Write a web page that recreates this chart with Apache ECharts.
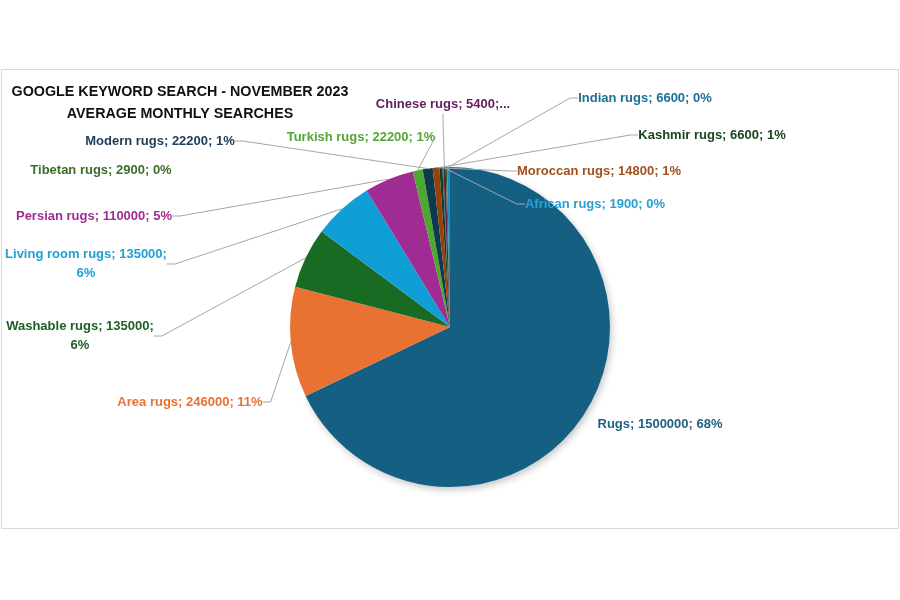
<!DOCTYPE html>
<html>
<head>
<meta charset="utf-8">
<script src="https://cdn.jsdelivr.net/npm/echarts@6/dist/echarts.min.js"></script>
<style>
html,body{margin:0;padding:0;background:#fff;}
#chart{width:900px;height:600px;}
</style>
</head>
<body>
<div id="chart"></div>
<script>
// ---- data ----
const titleLines = ['GOOGLE KEYWORD SEARCH - NOVEMBER 2023', 'AVERAGE MONTHLY SEARCHES'];
const categories = ['Rugs', 'Area rugs', 'Washable rugs', 'Living room rugs', 'Persian rugs',
  'Turkish rugs', 'Modern rugs', 'Moroccan rugs', 'Kashmir rugs', 'African rugs',
  'Chinese rugs', 'Tibetan rugs', 'Indian rugs'];
const searches = [1500000, 246000, 135000, 135000, 110000, 22200, 22200, 14800, 6600, 1900, 5400, 2900, 6600];

// ---- styles ----
const sliceColors = ['#156082', '#E97132', '#196B24', '#0F9ED5', '#A02B93', '#4EA72E',
  '#0D3A4E', '#994011', '#0F4016', '#095F80', '#601A58', '#2F641C', '#1F8EC0'];
const labelColors = ['#1F5F80', '#E97132', '#1E5E26', '#1FA0D6', '#A02B93', '#55A636',
  '#1C3C58', '#A0501E', '#17451C', '#2AA0D6', '#64205C', '#3C6E2A', '#1E6E96'];
// label centre positions (manually placed labels, as in the original)
const labelPlace = {
  'Rugs': [660, 424], 'Area rugs': [190, 402], 'Washable rugs': [80, 336],
  'Living room rugs': [86, 264], 'Persian rugs': [94, 216], 'Turkish rugs': [361, 137],
  'Modern rugs': [160, 141], 'Moroccan rugs': [599, 171], 'Kashmir rugs': [712, 135],
  'African rugs': [595, 204], 'Chinese rugs': [443, 104], 'Tibetan rugs': [101, 170],
  'Indian rugs': [645, 98]
};
const wrapped = ['Living room rugs', 'Washable rugs'];
const truncated = ['Chinese rugs'];
const noLine = ['Rugs', 'Tibetan rugs'];

const FONT = 'Liberation Sans';

const pieData = categories.map((name, i) => {
  let fmt = '{b}; {c}; {d}%';
  if (wrapped.includes(name)) fmt = '{b}; {c};\n{d}%';
  if (truncated.includes(name)) fmt = '{b}; {c};...';
  const item = {
    name: name,
    value: searches[i],
    itemStyle: { color: sliceColors[i] },
    label: { color: labelColors[i], formatter: fmt },
    labelLine: { show: !noLine.includes(name) }
  };
  if (i === 0) {
    item.itemStyle.shadowBlur = 7;
    item.itemStyle.shadowColor = 'rgba(0,0,0,0.22)';
    item.itemStyle.shadowOffsetX = 2;
    item.itemStyle.shadowOffsetY = 3;
  }
  return item;
});

const chart = echarts.init(document.getElementById('chart'), null, { renderer: 'canvas' });
chart.setOption({
  backgroundColor: '#ffffff',
  animation: false,
  title: {
    text: titleLines.join('\n'),
    left: 175,
    top: 76,
    textAlign: 'center',
    textStyle: { fontFamily: FONT, fontWeight: 'bold', fontSize: 14.3, color: '#111111', lineHeight: 22 }
  },
  graphic: [{
    type: 'rect',
    silent: true,
    z: -10,
    shape: { x: 1.5, y: 69.5, width: 897, height: 459 },
    style: { fill: 'none', stroke: '#D9D9D9', lineWidth: 1 }
  }],
  series: [{
    type: 'pie',
    center: [450, 327],
    radius: 160,
    startAngle: 90,
    clockwise: true,
    percentPrecision: 0,
    avoidLabelOverlap: false,
    itemStyle: { borderWidth: 0 },
    label: {
      show: true,
      position: 'outside',
      fontFamily: FONT,
      fontWeight: 'bold',
      fontSize: 13,
      lineHeight: 19,
      align: 'center'
    },
    labelLine: {
      show: true,
      showAbove: true,
      length: 10,
      length2: 8,
      smooth: false,
      lineStyle: { color: '#A6A6A6', width: 1 }
    },
    labelLayout: function (params) {
      const name = categories[params.dataIndex];
      const p = labelPlace[name];
      return { x: p[0], y: p[1], align: 'center', verticalAlign: 'middle' };
    },
    emphasis: { disabled: true },
    data: pieData
  }]
});
</script>
</body>
</html>
